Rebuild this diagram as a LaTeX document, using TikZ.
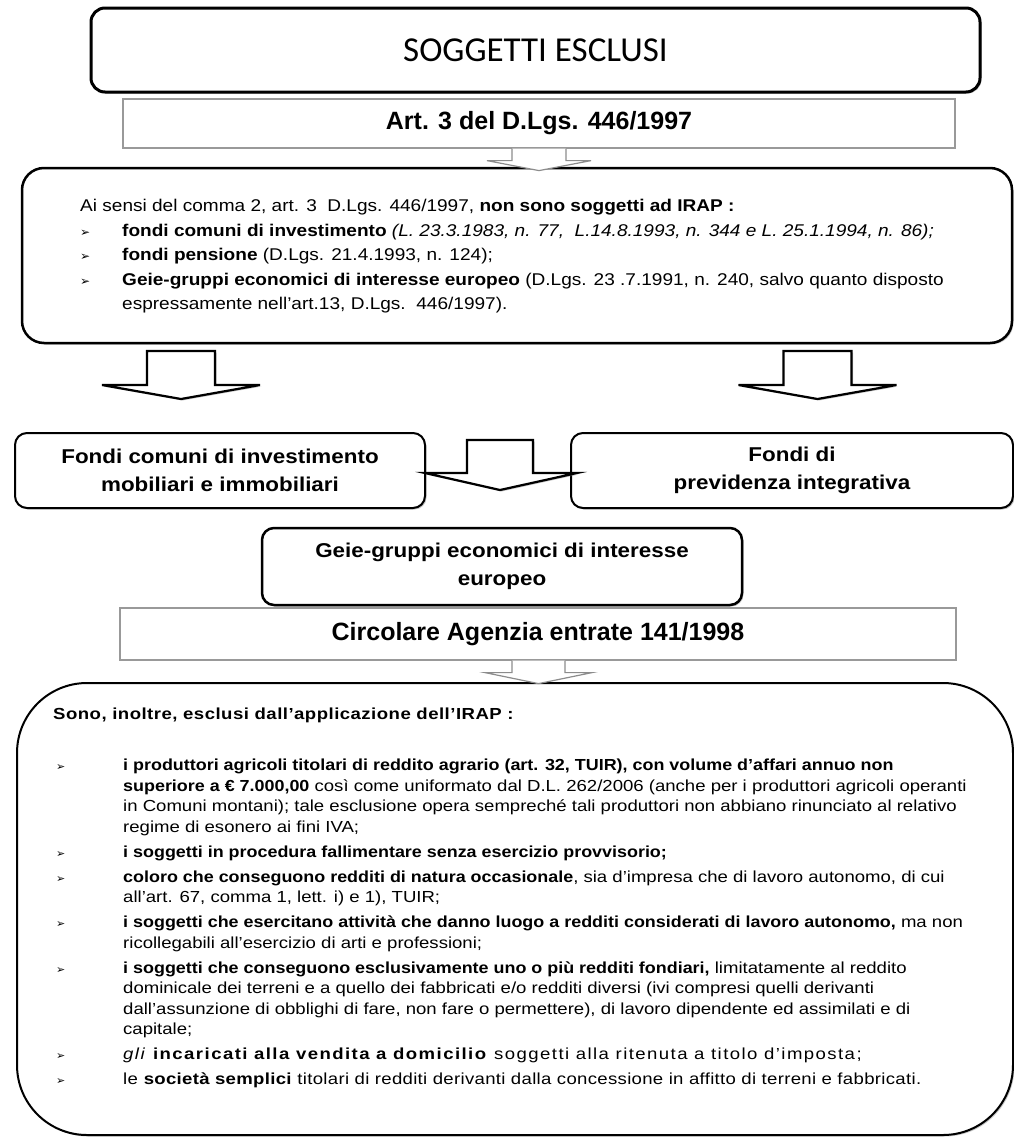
\documentclass[tikz,border=0pt]{standalone}
\usepackage{fontspec}
\setmainfont{Liberation Sans}
\newfontfamily\calib{Carlito}
\newfontfamily\symf{DejaVu Sans}
\newfontfamily\wideb{Liberation Sans}[FakeStretch=1.12]
\newfontfamily\tf{Liberation Sans}[FakeStretch=1.12]
\newfontfamily\botf{Liberation Sans}[FakeStretch=1.16]
\newfontfamily\botb{Liberation Sans}[FakeStretch=1.12]
\newcommand\B[1]{{\botb\bfseries #1}}
\usetikzlibrary{shadows,calc}
\newcommand\bulA{\makebox[42pt][l]{\symf\fontsize{12}{24.5}\selectfont ➢}}
\newcommand\bulB{\makebox[73pt][l]{\hspace*{6pt}\symf\fontsize{11}{20.5}\selectfont ➢}}
\newcommand\indB{\hspace*{73pt}}
\begin{document}
\begin{tikzpicture}[x=1pt,y=-1pt,
  shad/.style={drop shadow={shadow xshift=1.5pt,shadow yshift=-1.5pt,fill=black!45}},
  rbox/.style={draw=black, line width=2.5pt, rounded corners=14pt, fill=white, shad, inner sep=0pt, align=center},
  pbox/.style={draw=black!40, line width=1.2pt, fill=white, inner sep=0pt},
  barrow/.style={draw=black, line width=2.2pt, fill=white, line join=miter, shad},
  sarrow/.style={draw=black!45, line width=1.2pt, fill=white},
  boxfont/.style={font=\wideb\bfseries\fontsize{20}{28}\selectfont}
]
\useasboundingbox (0,0) rectangle (1014,1138);

% top title
\node[rbox, line width=3pt, minimum width=889pt, minimum height=84pt,
      font=\calib\fontsize{35}{38}\selectfont] (b1) at (535.5,50) {SOGGETTI ESCLUSI};

\node[pbox, minimum width=832pt, minimum height=49pt,
      font=\bfseries\fontsize{25}{30}\selectfont] (b2) at (539,123.5) {Art. 3 del D.Lgs. 446/1997};

% box 3
\node[rbox, rounded corners=22pt, minimum width=990pt, minimum height=175pt] (b3) at (517,255.5) {};
\node[anchor=north west, inner sep=0pt, align=left, font=\tf\fontsize{17}{24.5}\selectfont] (t3) at (80,199) {%
Ai sensi del comma 2, art. 3\ \ D.Lgs. 446/1997, \textbf{non sono soggetti ad IRAP :}\\
\bulA\textbf{fondi comuni di investimento} \textit{(L. 23.3.1983, n. 77,\ \ L.14.8.1993, n. 344 e L. 25.1.1994, n. 86);}\\
\bulA\textbf{fondi pensione} (D.Lgs. 21.4.1993, n. 124);\\
\bulA\textbf{Geie-gruppi economici di interesse europeo} (D.Lgs. 23 .7.1991, n. 240, salvo quanto disposto\\
\hspace*{42pt}espressamente nell’art.13, D.Lgs.\ \ 446/1997).};

% small arrow 1
\coordinate (a1) at (b2.south);
\draw[sarrow] ($(a1)+(-27,0)$) -- ++(0,12) -- ++(-25,0) -- ($(a1)+(0,22)$)
   -- ($(a1)+(52,12)$) -- ($(a1)+(27,12)$) -- ($(a1)+(27,0)$);

% middle boxes
\node[rbox, rounded corners=12pt, line width=2pt, minimum width=410pt, minimum height=75pt, boxfont] (fl) at (220,470.5)
   {Fondi comuni di investimento\\mobiliari e immobiliari};
\node[rbox, rounded corners=12pt, line width=2pt, minimum width=442pt, minimum height=75pt, boxfont] (fr) at (792,470.5)
   {Fondi di\\previdenza integrativa};

% big arrows
\coordinate (la) at (181,351);
\coordinate (ra) at (817.5,351);
\coordinate (ma) at (500,440);
\draw[barrow] ($(la)+(-34,0)$) -- ++(0,34) -- ++(-45,0) -- ($(la)+(0,48)$) -- ($(la)+(79,34)$)
   -- ($(la)+(34,34)$) -- ($(la)+(34,0)$) -- cycle;
\draw[barrow] ($(ra)+(-34,0)$) -- ++(0,34) -- ++(-45,0) -- ($(ra)+(0,48)$) -- ($(ra)+(79,34)$)
   -- ($(ra)+(34,34)$) -- ($(ra)+(34,0)$) -- cycle;
\draw[barrow] ($(ma)+(-33,0)$) -- ++(0,33) -- ++(-42,0) -- ($(ma)+(0,50)$) -- ($(ma)+(77,33)$)
   -- ($(ma)+(33,33)$) -- ($(ma)+(33,0)$) -- cycle;

% Geie
\node[rbox, rounded corners=12pt, minimum width=480pt, minimum height=77pt, boxfont] (ge) at (502,566.5)
   {Geie-gruppi economici di interesse\\europeo};

\node[pbox, minimum width=836pt, minimum height=52pt,
      font=\bfseries\fontsize{25}{30}\selectfont] (ci) at (538,634) {Circolare Agenzia entrate 141/1998};

% bottom box
\node[rbox, rounded corners=70pt, line width=2pt, minimum width=996pt, minimum height=452pt] (b4) at (515,909) {};

% small arrow 2
\coordinate (a2) at ($(ci.south)+(0.5,0)$);
\draw[sarrow] ($(a2)+(-26.5,0)$) -- ++(0,12) -- ++(-27,0) -- ($(a2)+(0,23)$)
   -- ($(a2)+(53.5,12)$) -- ($(a2)+(26.5,12)$) -- ($(a2)+(26.5,0)$);

\node[anchor=north west, inner sep=0pt, align=left, font=\botf\fontsize{16}{20.5}\selectfont] (t4) at (50,708) {%
\hspace*{3pt}{\bfseries\addfontfeature{LetterSpace=3}Sono, inoltre, esclusi dall’applicazione dell’IRAP :}\\[30.5pt]
\bulB\B{i produttori agricoli titolari di reddito agrario (art. 32, TUIR), con volume d’affari annuo non}\\
\indB\B{superiore a € 7.000,00} così come uniformato dal D.L. 262/2006 (anche per i produttori agricoli operanti\\
\indB in Comuni montani); tale esclusione opera sempreché tali produttori non abbiano rinunciato al relativo\\
\indB regime di esonero ai fini IVA;\\[4.5pt]
\bulB\B{i soggetti in procedura fallimentare senza esercizio provvisorio;}\\[4.5pt]
\bulB\B{coloro che conseguono redditi di natura occasionale}, sia d’impresa che di lavoro autonomo, di cui\\
\indB all’art. 67, comma 1, lett. i) e 1), TUIR;\\[4.5pt]
\bulB\B{i soggetti che esercitano attività che danno luogo a redditi considerati di lavoro autonomo,} ma non\\
\indB ricollegabili all’esercizio di arti e professioni;\\[4.5pt]
\bulB\B{i soggetti che conseguono esclusivamente uno o più redditi fondiari,} limitatamente al reddito\\
\indB dominicale dei terreni e a quello dei fabbricati e/o redditi diversi (ivi compresi quelli derivanti\\
\indB dall’assunzione di obblighi di fare, non fare o permettere), di lavoro dipendente ed assimilati e di\\
\indB capitale;\\[4.5pt]
\bulB{\addfontfeature{LetterSpace=9}\textit{gli} \textbf{incaricati alla vendita a domicilio} soggetti alla ritenuta a titolo d’imposta;}\\[4.5pt]
\bulB{\addfontfeature{LetterSpace=2}le \textbf{società semplici} titolari di redditi derivanti dalla concessione in affitto di terreni e fabbricati.}};
\end{tikzpicture}
\end{document}
